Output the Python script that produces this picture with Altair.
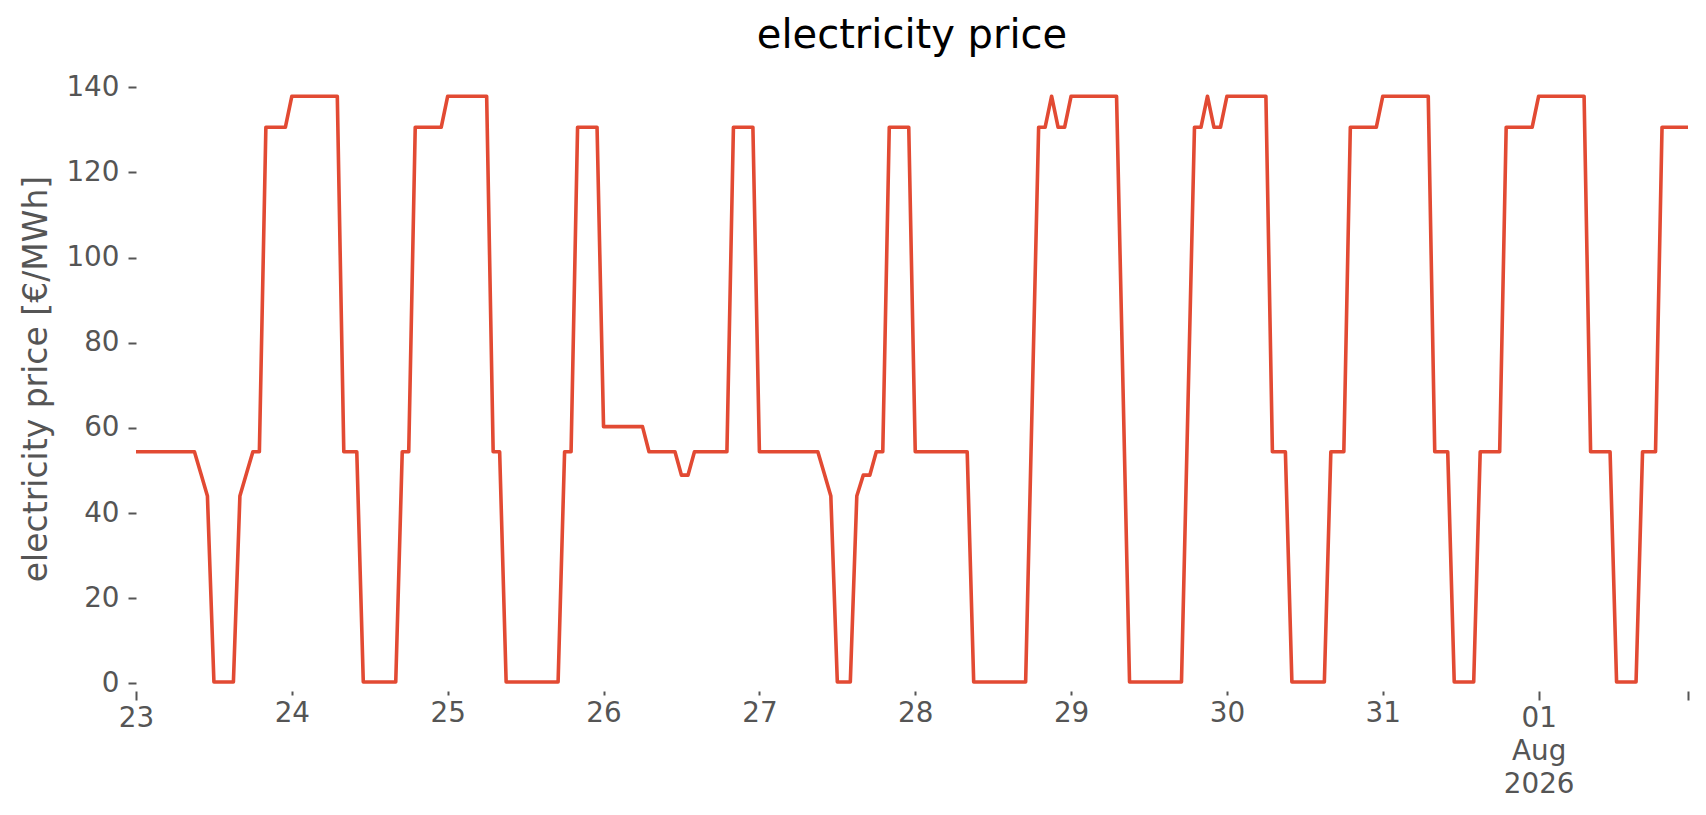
import altair as alt
import pandas as pd

# hourly electricity price [€/MWh], one list per day (00:00 ... 23:00)
jul23 = [54.4, 54.4, 54.4, 54.4, 54.4, 54.4, 54.4, 54.4, 54.4, 54.4, 49.2, 44.0,
         0.3, 0.3, 0.3, 0.3, 44.0, 49.2, 54.4, 54.4, 130.6, 130.6, 130.6, 130.6]
jul24 = [137.9, 137.9, 137.9, 137.9, 137.9, 137.9, 137.9, 137.9, 54.4, 54.4, 54.4, 0.3,
         0.3, 0.3, 0.3, 0.3, 0.3, 54.4, 54.4, 130.6, 130.6, 130.6, 130.6, 130.6]
jul25 = [137.9, 137.9, 137.9, 137.9, 137.9, 137.9, 137.9, 54.4, 54.4, 0.3, 0.3, 0.3,
         0.3, 0.3, 0.3, 0.3, 0.3, 0.3, 54.4, 54.4, 130.6, 130.6, 130.6, 130.6]
jul26 = [60.3, 60.3, 60.3, 60.3, 60.3, 60.3, 60.3, 54.4, 54.4, 54.4, 54.4, 54.4,
         48.9, 48.9, 54.4, 54.4, 54.4, 54.4, 54.4, 54.4, 130.6, 130.6, 130.6, 130.6]
jul27 = [54.4, 54.4, 54.4, 54.4, 54.4, 54.4, 54.4, 54.4, 54.4, 54.4, 49.2, 44.0,
         0.3, 0.3, 0.3, 44.0, 48.9, 48.9, 54.4, 54.4, 130.6, 130.6, 130.6, 130.6]
jul28 = [54.4, 54.4, 54.4, 54.4, 54.4, 54.4, 54.4, 54.4, 54.4, 0.3, 0.3, 0.3,
         0.3, 0.3, 0.3, 0.3, 0.3, 0.3, 65.5, 130.6, 130.6, 137.9, 130.6, 130.6]
jul29 = [137.9, 137.9, 137.9, 137.9, 137.9, 137.9, 137.9, 137.9, 69.1, 0.3, 0.3, 0.3,
         0.3, 0.3, 0.3, 0.3, 0.3, 0.3, 65.5, 130.6, 130.6, 137.9, 130.6, 130.6]
jul30 = [137.9, 137.9, 137.9, 137.9, 137.9, 137.9, 137.9, 54.4, 54.4, 54.4, 0.3, 0.3,
         0.3, 0.3, 0.3, 0.3, 54.4, 54.4, 54.4, 130.6, 130.6, 130.6, 130.6, 130.6]
jul31 = [137.9, 137.9, 137.9, 137.9, 137.9, 137.9, 137.9, 137.9, 54.4, 54.4, 54.4, 0.3,
         0.3, 0.3, 0.3, 54.4, 54.4, 54.4, 54.4, 130.6, 130.6, 130.6, 130.6, 130.6]
aug01 = [137.9, 137.9, 137.9, 137.9, 137.9, 137.9, 137.9, 137.9, 54.4, 54.4, 54.4, 54.4,
         0.3, 0.3, 0.3, 0.3, 54.4, 54.4, 54.4, 130.6, 130.6, 130.6, 130.6, 130.6]

days = [jul23, jul24, jul25, jul26, jul27, jul28, jul29, jul30, jul31, aug01]
prices = [v for d in days for v in d]
times = pd.date_range("2026-07-23 00:00", periods=len(prices), freq="h")
df = pd.DataFrame({"time": times, "price": prices})

y_ticks = [0, 20, 40, 60, 80, 100, 120, 140]
x_ticks = [alt.DateTime(year=2026, month=7, date=d) for d in range(23, 32)] + [
    alt.DateTime(year=2026, month=8, date=1),
    alt.DateTime(year=2026, month=8, date=1, hours=23),
]

major = "(month(datum.value) == 6 && date(datum.value) == 23) || date(datum.value) == 1"
label_expr = (
    "hours(datum.value) == 23 ? '' : (date(datum.value) == 1 ? "
    "[timeFormat(datum.value, '%d'), timeFormat(datum.value, '%b'), timeFormat(datum.value, '%Y')]"
    " : timeFormat(datum.value, '%d'))"
)

FONT = "DejaVu Sans"
GRAY = "#555555"

x_axis = alt.Axis(
    values=x_ticks,
    labelExpr=label_expr,
    title=None,
    domain=False,
    grid=False,
    tickColor=GRAY,
    tickWidth=2,
    tickSize={"condition": {"test": major, "value": 9}, "value": 4},
    labelColor=GRAY,
    labelFont=FONT,
    labelFontSize=27.8,
    labelPadding=4,
    labelLineHeight=33,
    labelFlush=False,
    labelOverlap=False,
    labelBound=False,
    labelBaseline="top",
)
y_axis = alt.Axis(
    values=y_ticks,
    format="d",
    title="electricity price [€/MWh]",
    titleFont=FONT,
    titleFontSize=33,
    titleFontWeight="normal",
    titleColor=GRAY,
    titlePadding=12,
    domain=False,
    grid=False,
    tickColor=GRAY,
    tickWidth=2,
    tickSize=8,
    labelColor=GRAY,
    labelFont=FONT,
    labelFontSize=27.8,
    labelPadding=9,
)

chart = (
    alt.Chart(df)
    .mark_line(color="#E24A33", strokeWidth=3.6, strokeJoin="round")
    .encode(
        x=alt.X(
            "time:T",
            scale=alt.Scale(
                domain=[
                    alt.DateTime(year=2026, month=7, date=23),
                    alt.DateTime(year=2026, month=8, date=1, hours=23),
                ],
                nice=False,
            ),
            axis=x_axis,
        ),
        y=alt.Y(
            "price:Q",
            scale=alt.Scale(domain=[-1.8, 145], nice=False, zero=False),
            axis=y_axis,
        ),
    )
    .properties(
        width=1552,
        height=625,
        title=alt.TitleParams(
            "electricity price",
            font=FONT,
            fontSize=40,
            fontWeight="normal",
            color="#000000",
            anchor="middle",
            offset=10,
        ),
        autosize=alt.AutoSizeParams(type="none"),
        padding={"left": 128, "top": 58, "right": 10, "bottom": 116},
    )
    .configure(font=FONT, background="white")
    .configure_view(stroke="transparent", strokeWidth=0)
)

chart.save("out.html", embed_options={"renderer": "svg", "actions": False})
